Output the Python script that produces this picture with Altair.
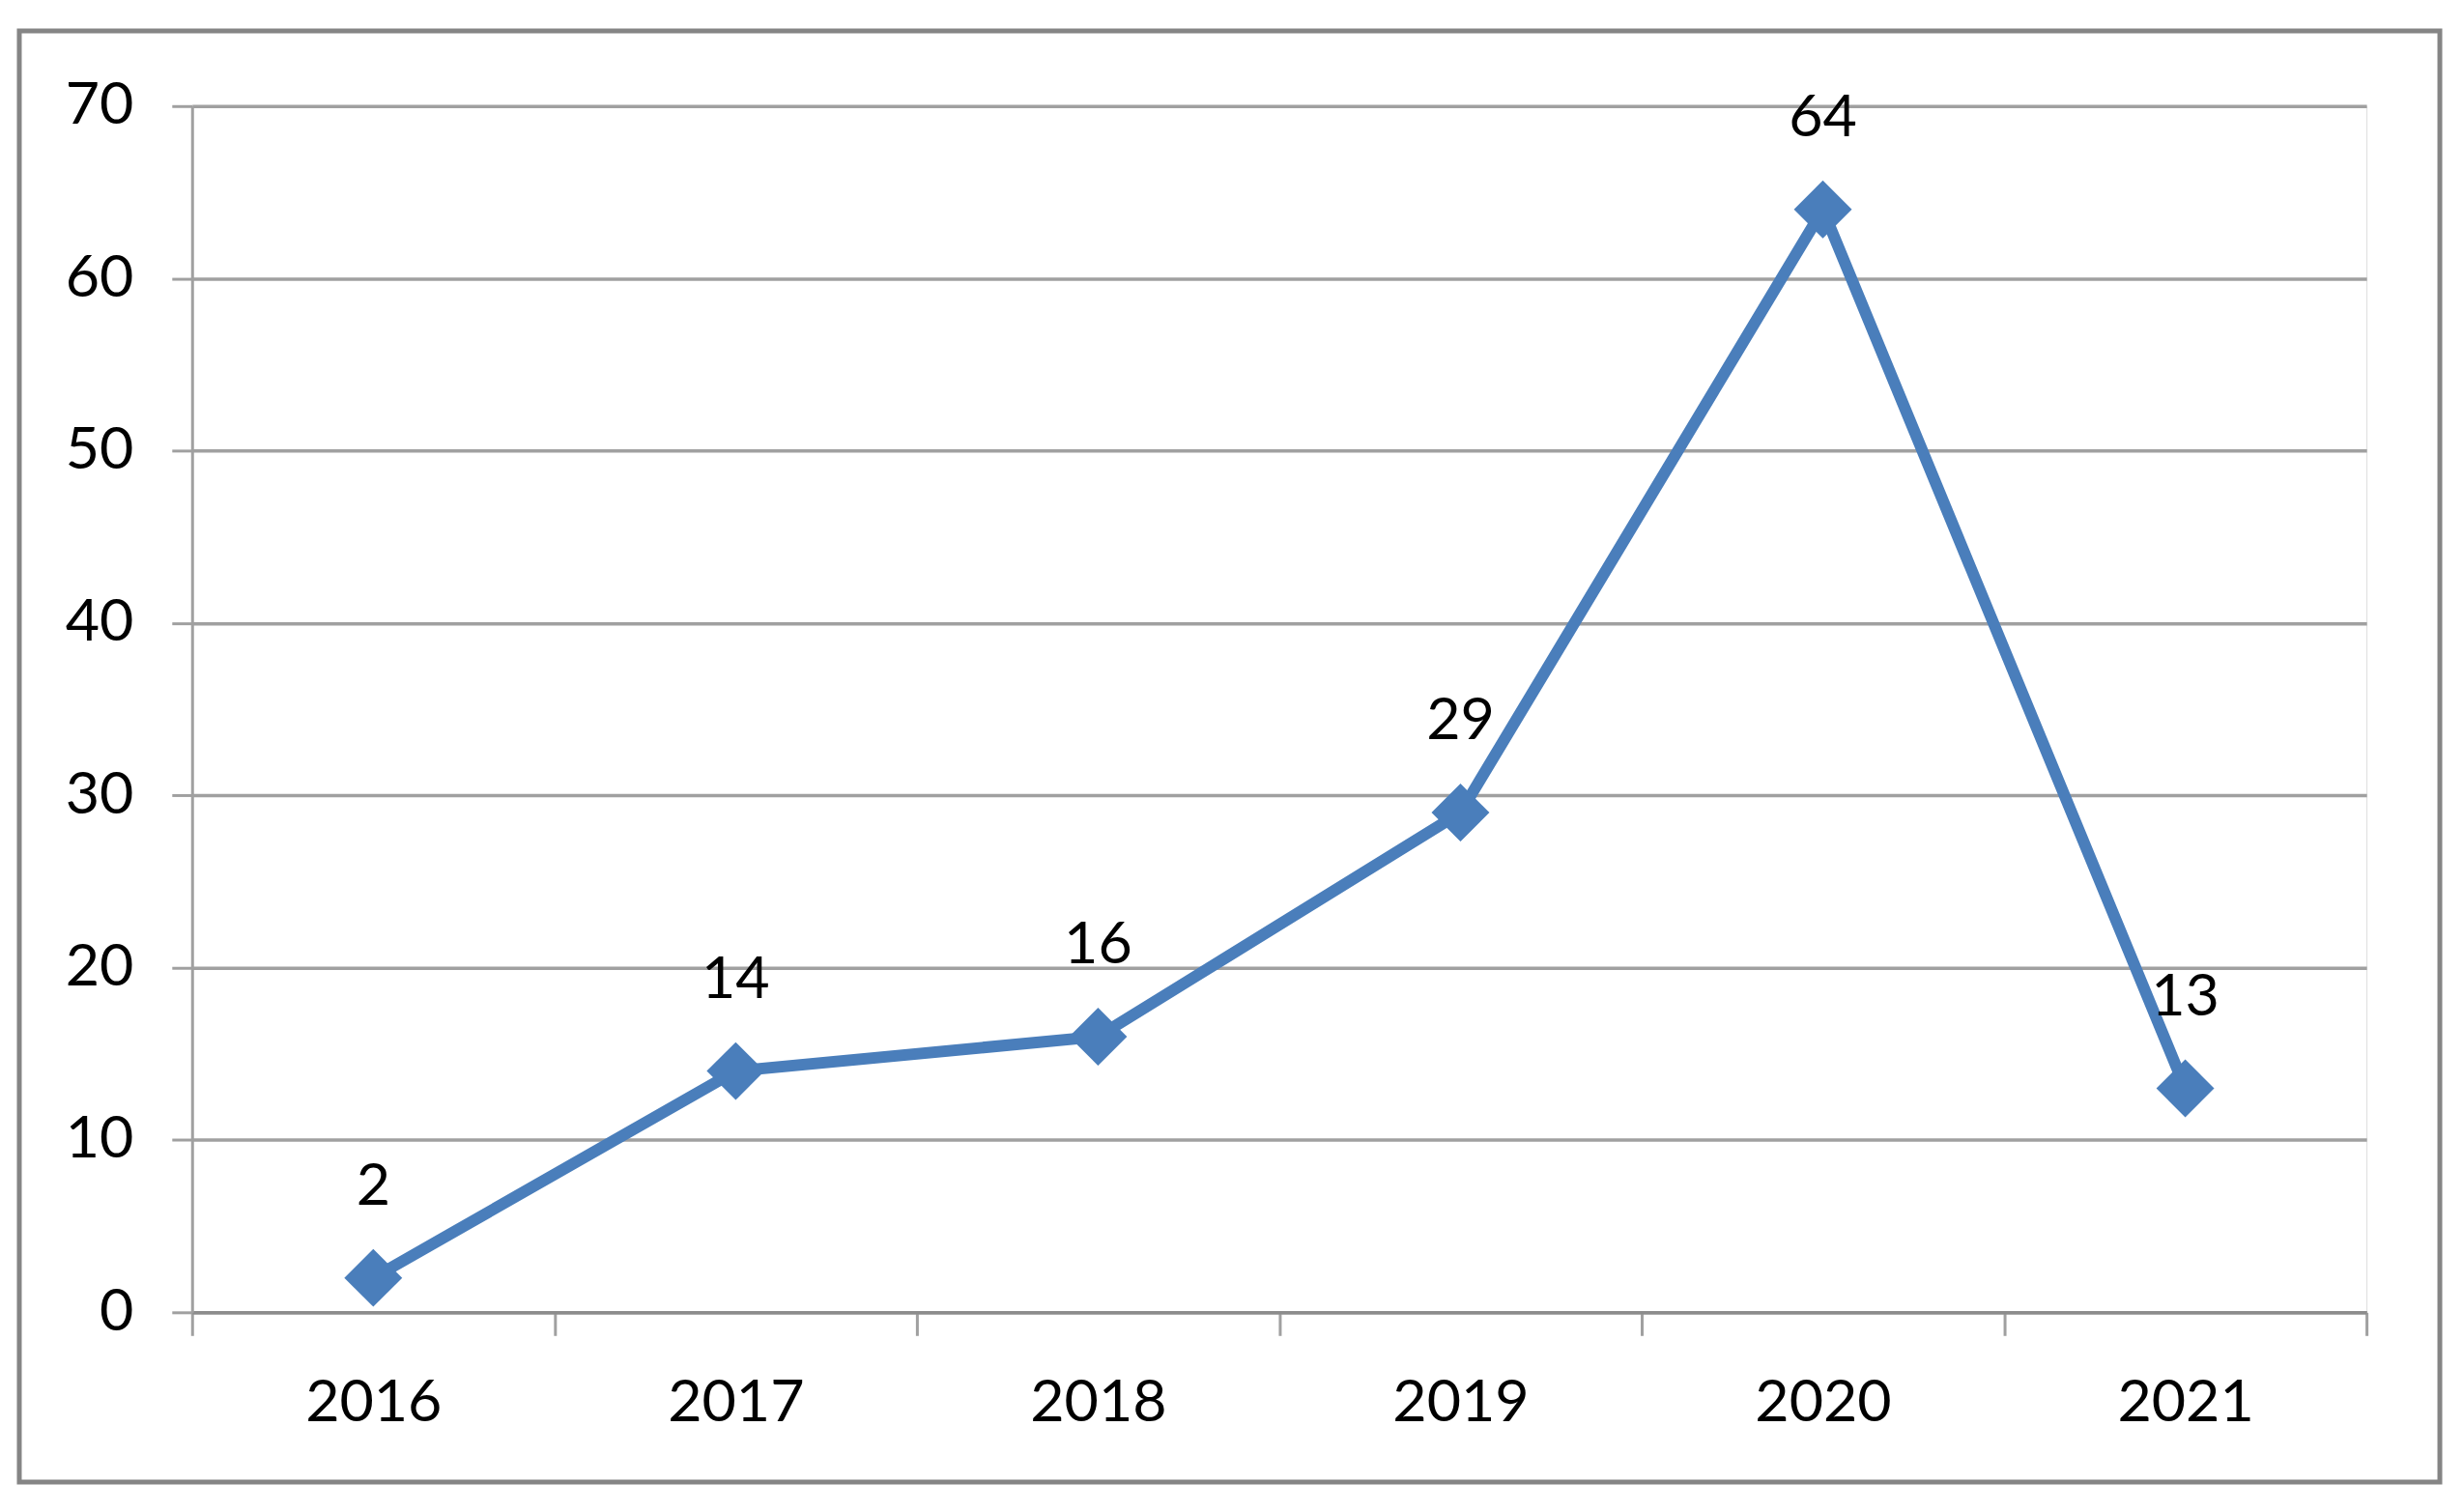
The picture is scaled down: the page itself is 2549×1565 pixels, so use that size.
import altair as alt
import pandas as pd

years = ["2016", "2017", "2018", "2019", "2020", "2021"]
counts = [2, 14, 16, 29, 64, 13]

df = pd.DataFrame({"year": years, "count": counts})

FONT = "Lato"
BLUE = "#4a7ebb"
GRID = "#a0a0a0"

x_enc = alt.X(
    "year:N",
    sort=years,
    scale=alt.Scale(type="band", paddingInner=0, paddingOuter=0),
    axis=alt.Axis(
        title=None,
        labelAngle=0,
        labelFont=FONT,
        labelFontSize=61,
        labelColor="#000000",
        labelPadding=40,
        tickBand="extent",
        tickSize=24,
        tickColor=GRID,
        tickWidth=3,
        domainColor="#8c8c8c",
        domainWidth=3.5,
        grid=False,
    ),
)
y_enc = alt.Y(
    "count:Q",
    scale=alt.Scale(domain=[0, 70], nice=False),
    axis=alt.Axis(
        title=None,
        values=[0, 10, 20, 30, 40, 50, 60, 70],
        labelFont=FONT,
        labelFontSize=61,
        labelColor="#000000",
        labelPadding=40,
        tickSize=21,
        tickColor=GRID,
        tickWidth=3,
        domainColor=GRID,
        domainWidth=3,
        grid=True,
        gridColor=GRID,
        gridWidth=3.5,
    ),
)

frame = alt.Chart(pd.DataFrame({"k": [0]})).mark_rect(
    fill=None, stroke="#858585", strokeWidth=5
).encode(
    x=alt.value(-179), x2=alt.value(2329), y=alt.value(-78), y2=alt.value(1426)
)

line = alt.Chart(df).mark_line(color=BLUE, strokeWidth=12).encode(x=x_enc, y=y_enc)
points = alt.Chart(df).mark_point(
    shape="diamond", filled=True, color=BLUE, opacity=1, size=3600
).encode(x=alt.X("year:N", sort=years), y="count:Q")
labels = alt.Chart(df).mark_text(
    font=FONT, fontSize=61, color="#000000", dy=-94, baseline="middle", align="center"
).encode(x=alt.X("year:N", sort=years), y="count:Q", text="count:Q")

chart = (
    alt.layer(frame, line, points, labels)
    .properties(
        width=2253,
        height=1250,
        autosize=alt.AutoSizeParams(type="none"),
        padding={"left": 191, "top": 101, "right": 92, "bottom": 192},
    )
    .configure_view(stroke=None)
    .configure(background="white")
)

chart.save("out.html", embed_options={"renderer": "svg", "actions": False})
